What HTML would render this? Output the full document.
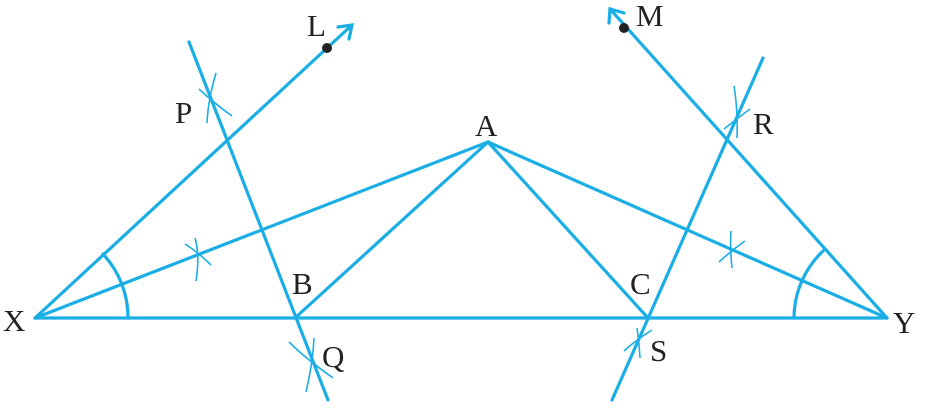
<!DOCTYPE html>
<html><head><style>
html,body{margin:0;padding:0;background:#fff;}
svg{display:block}
text{font-family:"Liberation Serif",serif;font-size:31px;fill:#222;}
</style></head><body>
<svg width="930" height="409" viewBox="0 0 930 409" xmlns="http://www.w3.org/2000/svg">
<g stroke="#1aaee5" stroke-width="3.2" fill="none" stroke-linecap="round">
<line x1="35" y1="318" x2="887" y2="318"/>
<line x1="35" y1="318" x2="488" y2="142"/>
<line x1="887" y1="318" x2="488" y2="142"/>
<line x1="295" y1="318" x2="488" y2="142"/>
<line x1="648" y1="318" x2="488" y2="142"/>
<line x1="35" y1="318" x2="352" y2="25"/>
<polyline points="338,27 352,25 349,39"/>
<line x1="887" y1="318" x2="610" y2="9"/>
<polyline points="609,23 610,9 624,13"/>
<line x1="189" y1="42" x2="328" y2="400"/>
<line x1="763" y1="58" x2="612" y2="400"/>
<path d="M128,318 A93,93 0 0 0 103,254"/>
<path d="M794,318 A93,93 0 0 1 823,251"/>
</g>
<g stroke="#1aaee5" stroke-width="1.6" fill="none">
<path d="M216,73 Q208,100 207,123"/>
<path d="M199,89 Q215,104 232,116"/>
<path d="M195,238 Q200,255 196,281"/>
<path d="M185,244 Q198,252 211,265"/>
<path d="M314,338 Q313,362 306,392"/>
<path d="M289,342 Q305,358 333,378"/>
<path d="M734,86 Q738,110 737,138"/>
<path d="M724,129 Q738,118 750,109"/>
<path d="M731,231 Q730,250 732,268"/>
<path d="M719,262 Q732,250 745,241"/>
<path d="M637,328 Q639,342 640,358"/>
<path d="M624,351 Q636,340 652,330"/>
</g>
<circle cx="327" cy="48" r="5" fill="#222"/>
<circle cx="624" cy="28" r="5" fill="#222"/>
<text x="307" y="36">L</text>
<text x="636" y="26">M</text>
<text x="175" y="123">P</text>
<text x="475" y="136">A</text>
<text x="753" y="134">R</text>
<text x="3" y="331">X</text>
<text x="893" y="333">Y</text>
<text x="292" y="294">B</text>
<text x="630" y="294">C</text>
<text x="322" y="367">Q</text>
<text x="650" y="361">S</text>
</svg>
</body></html>
